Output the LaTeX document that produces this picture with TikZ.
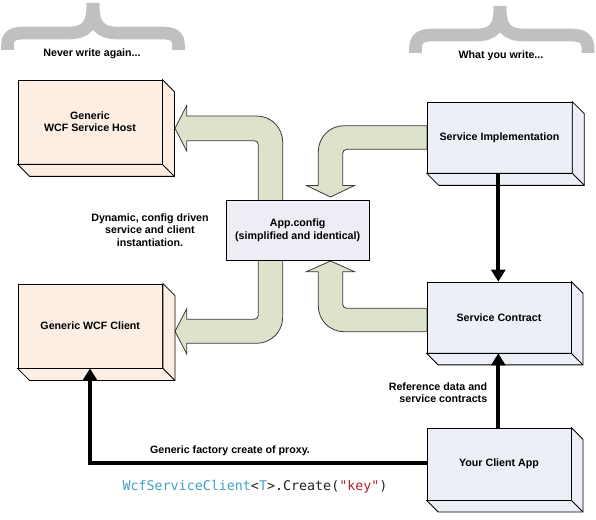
\documentclass[tikz,border=0pt]{standalone}
\usepackage{fontspec}
\setmainfont{Liberation Sans}
\newfontfamily\codefont{DejaVu Sans Mono}
\usetikzlibrary{arrows.meta}
\definecolor{peach}{HTML}{FDEEE4}
\definecolor{bluish}{HTML}{ECEFF6}
\definecolor{lavender}{HTML}{EEECF5}
\definecolor{olive}{HTML}{DDE3CB}
\definecolor{outline}{HTML}{3A3A3A}
\definecolor{bracegray}{HTML}{C0C0C0}
\definecolor{codeteal}{HTML}{3FA2C4}
\definecolor{codered}{HTML}{B22222}
\definecolor{codeblack}{HTML}{222222}
\newcommand\boxdepth[3]{%
  \filldraw[fill=#2,draw=black,line width=0.6pt,line join=miter]
    (#1.north east) -- ([shift={(#3,#3)}]#1.north east)
    -- ([shift={(#3,#3)}]#1.south east) -- ([shift={(#3,#3)}]#1.south west)
    -- (#1.south west) -- (#1.south east) -- cycle;
  \draw[line width=0.6pt] (#1.south east) -- ([shift={(#3,#3)}]#1.south east);}
\begin{document}
\begin{tikzpicture}[x=0.75pt,y=-0.75pt,
  lbl/.style={font=\fontsize{8}{9.2}\selectfont\bfseries,text=black,inner sep=0pt,align=center},
  frontbox/.style={draw=black,line width=0.6pt,inner sep=0pt,lbl},
  blockarrow/.style={fill=olive,draw=outline,line width=0.6pt,line join=miter},
  bigarrow/.style={line width=3pt,-{Triangle[length=9pt,width=10.5pt]}},
  bracestyle/.style={draw=bracegray,line width=9.5pt,line cap=butt}]
\useasboundingbox (0,0) rectangle (596,520);

% braces
\draw[bracestyle] (7.5,50) -- (7.5,46) .. controls (7.5,36) and (12,33) .. (25,33) -- (68,33)
   .. controls (87,33) and (93,25) .. (93,3);
\draw[bracestyle] (178.5,50) -- (178.5,46) .. controls (178.5,36) and (174,33) .. (161,33) -- (118,33)
   .. controls (99,33) and (93,25) .. (93,3);
\draw[bracestyle] (415.5,53) -- (415.5,49) .. controls (415.5,39) and (420,35) .. (433,35) -- (475,35)
   .. controls (494,35) and (500,28) .. (500,6);
\draw[bracestyle] (588,53) -- (588,49) .. controls (588,39) and (583.5,35) .. (570.5,35) -- (525,35)
   .. controls (506,35) and (500,28) .. (500,6);
\node[lbl] (never) at (92,54) {Never write again...};
\node[lbl] (what) at (501,56) {What you write...};

% block arrows
\filldraw[blockarrow] (258.3,201) -- (258.3,144.7) .. controls (258.3,142.5) and (256.5,140.7) .. (254.3,140.7)
  -- (186.7,140.7) -- (186.7,151) -- (175,128.3) -- (186.7,105.6) -- (186.7,116) -- (256.7,116)
  .. controls (271.1,116) and (282.7,127.6) .. (282.7,142) -- (282.7,201) -- cycle;
\filldraw[blockarrow] (258.3,260) -- (258.3,315.3) .. controls (258.3,317.5) and (256.5,319.3) .. (254.3,319.3)
  -- (186.7,319.3) -- (186.7,308.8) -- (175,331.3) -- (186.7,353.8) -- (186.7,343.3) -- (256.7,343.3)
  .. controls (271.1,343.3) and (282.7,331.7) .. (282.7,317.3) -- (282.7,260) -- cycle;
\filldraw[blockarrow] (427,125.7) -- (344,125.7) .. controls (329.6,125.7) and (318.3,137.3) .. (318.3,151.7)
  -- (318.3,185.5) -- (306.5,185.5) -- (330.5,197) -- (354.5,185.5) -- (342.7,185.5)
  -- (342.7,153.3) .. controls (342.7,151.1) and (344.5,149.3) .. (346.7,149.3) -- (427,149.3) -- cycle;
\filldraw[blockarrow] (427,331.7) -- (344,331.7) .. controls (329.6,331.7) and (318.3,320.1) .. (318.3,305.7)
  -- (318.3,271.7) -- (306.5,271.7) -- (330.5,261) -- (354.5,271.7) -- (342.7,271.7)
  -- (342.7,304.3) .. controls (342.7,306.5) and (344.5,308.3) .. (346.7,308.3) -- (427,308.3) -- cycle;

% boxes
\node[frontbox,fill=peach,minimum width=108pt,minimum height=63pt] (host) at (90,122) {Generic\\WCF Service Host};
\boxdepth{host}{peach}{12}
\node[frontbox,fill=peach,minimum width=108.4pt,minimum height=63pt] (client) at (90.25,326) {Generic WCF Client};
\boxdepth{client}{peach}{12}
\node[frontbox,fill=bluish,minimum width=108.6pt,minimum height=53.2pt] (impl) at (499.5,137.5) {Service Implementation};
\boxdepth{impl}{bluish}{12}
\node[frontbox,fill=bluish,minimum width=108pt,minimum height=53.2pt] (contract) at (499,317.5) {Service Contract};
\boxdepth{contract}{bluish}{11.5}
\node[frontbox,fill=bluish,minimum width=108pt,minimum height=54pt] (app) at (499,464) {Your Client App};
\boxdepth{app}{bluish}{11.5}
\node[frontbox,fill=lavender,minimum width=107.5pt,minimum height=44.5pt] (config) at (297.65,230.35) {App.config\\(simplified and identical)};

% labels
\node[lbl] (dyn) at (150,230) {Dynamic, config driven\\service and client\\instantiation.};
\node[lbl,align=right,anchor=east] (refdata) at (487.5,393) {Reference data and\\service contracts};
\node[lbl] (factory) at (230,451) {Generic factory create of proxy.};
\node[inner sep=0pt,font=\codefont\fontsize{10}{12}\selectfont] (code) at (255,487)
  {\textcolor{codeteal}{WcfServiceClient}\textcolor{codeblack}{<}\textcolor{codeteal}{T}\textcolor{codeblack}{>.Create(}\textcolor{codered}{"key"}\textcolor{codeblack}{)}};

% connectors
\draw[bigarrow] (impl.south -| 498.3,0) -- (contract.north -| 498.3,0);
\draw[bigarrow] (app.north -| 498.3,0) -- (contract.south -| 498.3,0);
\draw[bigarrow] (app.west |- 0,463) -| (client.south -| 90,0);
\end{tikzpicture}
\end{document}
